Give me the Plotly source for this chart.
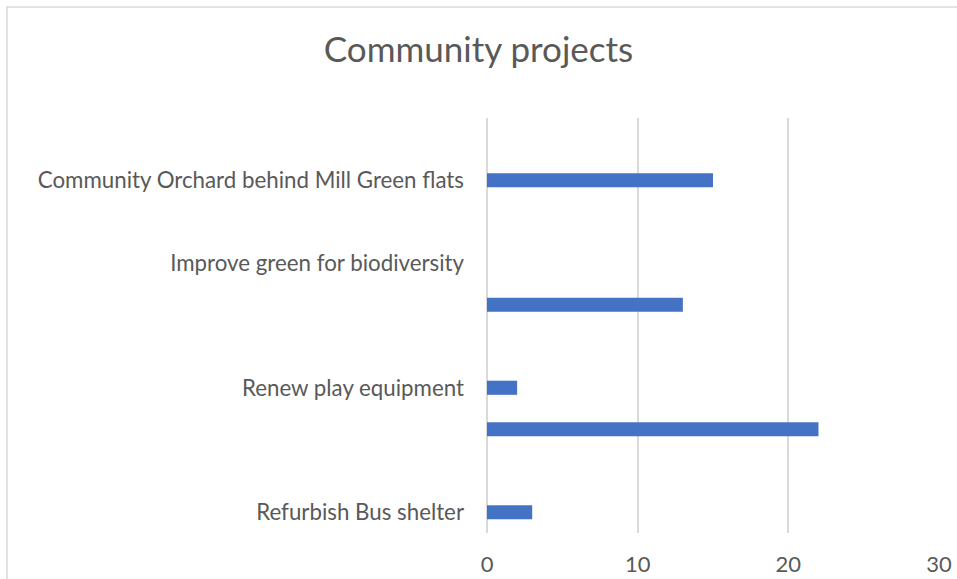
import plotly.graph_objects as go

# Data
positions = [1, 4, 6, 7, 9]          # category slot index (top = 0)
values = [15, 13, 2, 22, 3]
label_positions = [1, 3, 6, 9]
labels = [
    "Community Orchard behind Mill Green flats",
    "Improve green for biodiversity",
    "Renew play equipment",
    "Refurbish Bus shelter",
]
x_ticks = [0, 10, 20, 30]

W, H = 957, 579
L, R, T, B = 487, 18, 118, 46
pw, ph = W - L - R, H - T - B

def px_x(p):
    return (p - L) / pw

def px_y(p):
    return (H - B - p) / ph

fig = go.Figure()
fig.add_trace(go.Bar(
    x=values, y=positions, orientation="h",
    marker=dict(color="#4472C4", line=dict(width=0)),
    width=0.34,
))

font_family = "Lato, Open Sans, sans-serif"
fig.update_layout(
    width=W, height=H,
    margin=dict(l=L, r=R, t=T, b=B, autoexpand=False),
    paper_bgcolor="white", plot_bgcolor="white",
    showlegend=False,
    title=dict(text="Community projects", x=0.5, xanchor="center",
               y=1 - 50 / H, yanchor="middle", yref="container",
               font=dict(family=font_family, size=35, color="#595959")),
    xaxis=dict(range=[0, 30], tickvals=x_ticks, showgrid=True, automargin=False,
               gridcolor="#d9d9d9", gridwidth=1.5, zeroline=True,
               zerolinecolor="#d9d9d9", zerolinewidth=1.5, showline=False,
               ticks="", ticklabelstandoff=16,
               tickfont=dict(family=font_family, size=22, color="#595959")),
    yaxis=dict(range=[9.5, -0.5], tickvals=label_positions, ticktext=labels,
               showgrid=False, zeroline=False, showline=False, ticks="",
               ticklabelstandoff=22, automargin=False,
               tickfont=dict(family=font_family, size=22.3, color="#595959")),
    shapes=[dict(type="rect", xref="paper", yref="paper",
                 x0=px_x(7), x1=px_x(W + 20), y0=px_y(H + 20), y1=px_y(7),
                 line=dict(color="#d9d9d9", width=1.5), fillcolor="rgba(0,0,0,0)",
                 layer="below")],
)

fig.write_html("out.html", config={"displayModeBar": False},
               post_script="document.body.style.margin='0';document.body.style.padding='0';document.body.style.overflow='hidden';")
